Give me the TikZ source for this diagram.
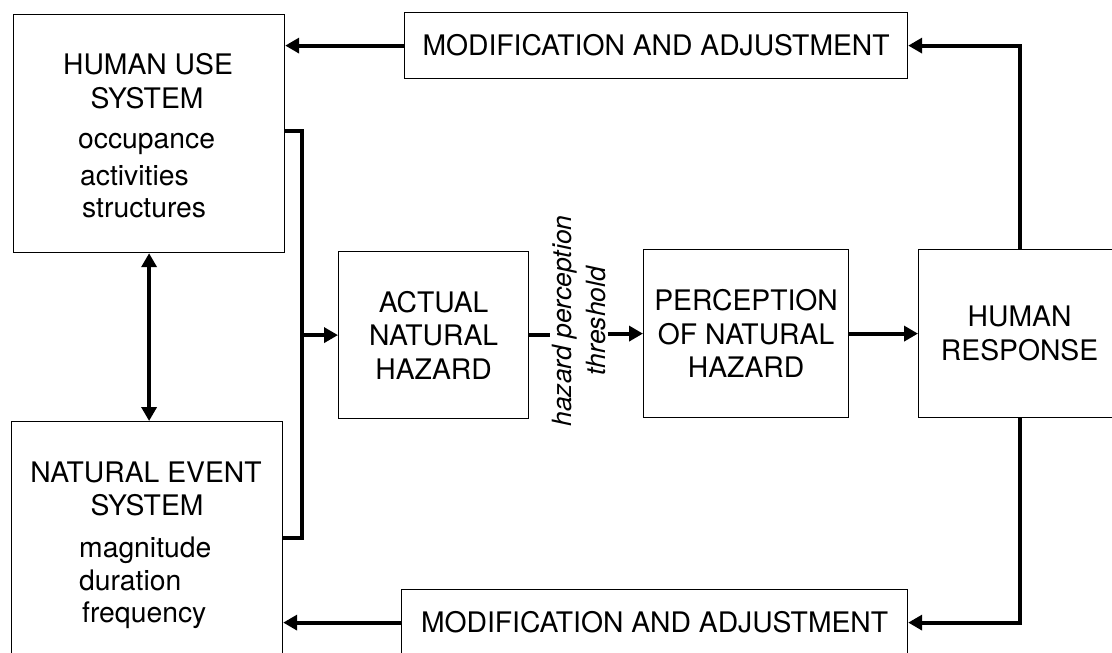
\documentclass[tikz,border=0pt]{standalone}
\usepackage{fontspec}
\setmainfont{TeX Gyre Heros}
\usetikzlibrary{arrows.meta}
\begin{document}
\begin{tikzpicture}[x=1pt,y=-1pt,
  box/.style={draw, line width=1.2pt, inner sep=0pt, align=center,
              font=\fontsize{28.3}{33.5}\selectfont},
  lbl/.style={inner sep=0pt, font=\fontsize{28.3}{34}\selectfont},
  tip/.tip={Triangle[length=14pt,width=15pt]},
  link/.style={line width=3.8pt},
  flow/.style={line width=3.8pt, -tip},
  both/.style={line width=3.8pt, tip-tip},
]
\useasboundingbox (0,0) rectangle (1112,653);
\fill[white] (0,0) rectangle (1112,653);
\clip (0,0) rectangle (1112,653);

% system boxes on the left
\node[box, anchor=north west, minimum width=271pt, minimum height=238pt] (hus) at (13,14) {};
\node[box, anchor=north west, minimum width=271pt, minimum height=250pt] (nes) at (11,421) {};

\node[lbl, anchor=base] (husA) at (148,74) {HUMAN USE};
\node[lbl, anchor=base] (husB) at (147,108) {SYSTEM};
\node[lbl, anchor=base west] (husC) at (78,148) {occupance};
\node[lbl, anchor=base west] (husD) at (80,185) {activities};
\node[lbl, anchor=base west] (husE) at (82,217) {structures};

\node[lbl, anchor=base] (nesA) at (146,482) {NATURAL EVENT};
\node[lbl, anchor=base] (nesB) at (147,515) {SYSTEM};
\node[lbl, anchor=base west] (nesC) at (79,557) {magnitude};
\node[lbl, anchor=base west] (nesD) at (79,590) {duration};
\node[lbl, anchor=base west] (nesE) at (82,622) {frequency};

% feedback boxes
\node[box, anchor=north west, minimum width=503pt, minimum height=66pt] (modtop) at (404,12) {MODIFICATION AND ADJUSTMENT};
\node[box, anchor=north west, minimum width=506pt, minimum height=66pt] (modbot) at (401,589) {MODIFICATION AND ADJUSTMENT};

% main chain
\node[box, anchor=north west, minimum width=190pt, minimum height=167pt] (act) at (338,251) {ACTUAL\\NATURAL\\HAZARD};
\node[box, anchor=north west, minimum width=205pt, minimum height=168pt] (per) at (643,249) {PERCEPTION\\OF NATURAL\\HAZARD};
\node[box, anchor=north west, minimum width=202pt, minimum height=168pt] (resp) at (918,249) {HUMAN\\RESPONSE};

\node[inner sep=1.5pt, rotate=90, align=center,
      font=\fontsize{26.5}{34}\selectfont\itshape] (thr) at (579,321)
      {hazard perception\\threshold};

% connectors
\coordinate (bt) at (302,131);
\coordinate (bb) at (302,538);
\draw[link] (bt -| hus.east) -- (bt) -- (bb) -- (bb -| nes.east);
\draw[flow] (bt |- act.west) -- (act.west);
\draw[both] (hus.south) -- (hus.south |- nes.north);

\draw[link] (act.east) -- (act.east -| thr.north);
\draw[flow] (per.west -| thr.south) -- (per.west);
\draw[flow] (per.east) -- (resp.west);

\draw[flow] (resp.north) |- (modtop.east);
\draw[flow] (resp.south) |- (modbot.east);
\draw[flow] (modtop.west) -- (modtop.west -| hus.east);
\draw[flow] (modbot.west) -- (modbot.west -| nes.east);
\end{tikzpicture}
\end{document}
